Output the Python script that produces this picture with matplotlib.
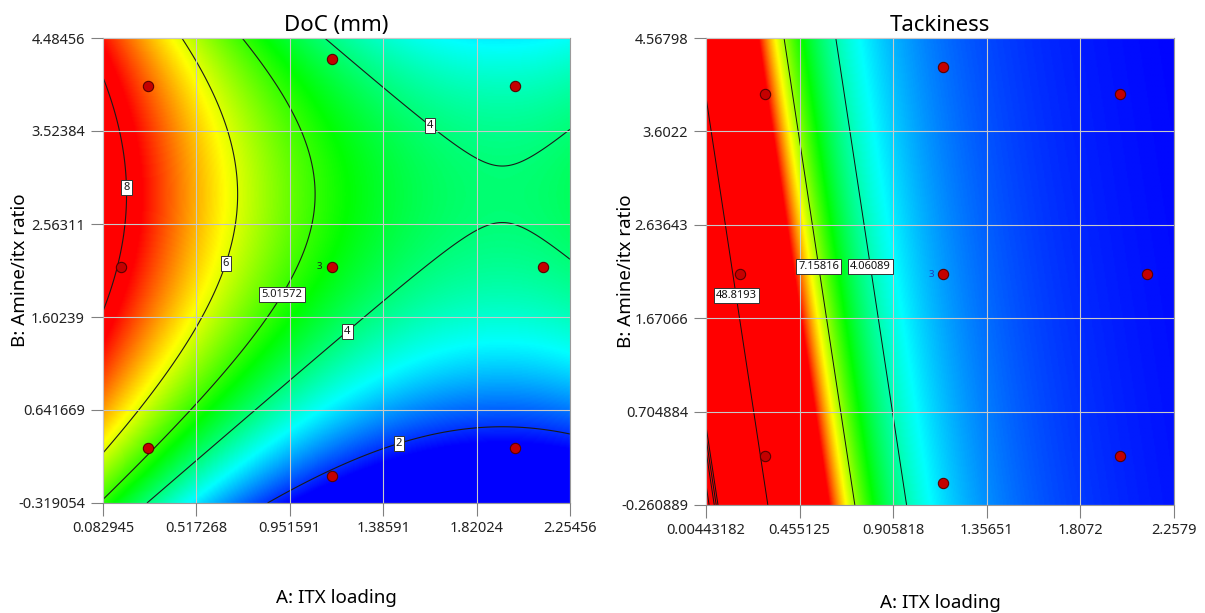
import numpy as np
import matplotlib
matplotlib.use("Agg")
import matplotlib.pyplot as plt
from matplotlib.colors import LinearSegmentedColormap

plt.rcParams["font.family"] = ["Noto Sans", "DejaVu Sans"]

# design runs (A: ITX loading, B: Amine/itx ratio), centre point run 3 times
run_A = [0.29, 2.00, 0.29, 2.00, 0.167, 2.13, 1.147, 1.147, 1.147]
run_B = [0.25, 0.25, 3.99, 3.99, 2.124, 2.124, -0.035, 4.27, 2.124]
run_reps = [1, 1, 1, 1, 1, 1, 1, 1, 3]

# DoC (mm) response surface: saddle form
doc_saddle_A = 1.94
doc_saddle_B = 2.87
doc_saddle_val = 4.03
doc_curv_A = 1.30
doc_curv_B = -0.352
doc_levels = [2, 4, 5.01572, 6, 8]
doc_range = (1.7, 7.7)
doc_xlim = (0.082945, 2.25456)
doc_ylim = (-0.319054, 4.48456)
doc_xticks = ["0.082945", "0.517268", "0.951591", "1.38591", "1.82024", "2.25456"]
doc_yticks = ["-0.319054", "0.641669", "1.60239", "2.56311", "3.52384", "4.48456"]

# Tackiness: inverse sqrt model, 1/sqrt(y) = c0 + c1*u + c2*u^2, u = A + k*(B - b_ref)
tack_k = 0.0706
tack_bref = 2.15
tack_coef = [0.064, 0.6109, -0.0883]
tack_levels = [4.06089, 7.15816, 48.8193]
tack_corner_levels = [1100, 4800, 14000, 110000]
tack_range = (0.9, 10.5)
tack_xlim = (0.00443182, 2.2579)
tack_ylim = (-0.260889, 4.56798)
tack_xticks = ["0.00443182", "0.455125", "0.905818", "1.35651", "1.8072", "2.2579"]
tack_yticks = ["-0.260889", "0.704884", "1.67066", "2.63643", "3.6022", "4.56798"]

cmap = LinearSegmentedColormap.from_list(
    "dx", ["#0000ff", "#00ffff", "#00ff00", "#ffff00", "#ff0000"])


def style_axes(ax, xlim, ylim, xticks, yticks, title, lx, ly):
    ax.set_xlim(*xlim)
    ax.set_ylim(*ylim)
    ax.set_xticks([float(v) for v in xticks])
    ax.set_xticklabels(xticks)
    ax.set_yticks([float(v) for v in yticks])
    ax.set_yticklabels(yticks)
    ax.tick_params(direction="out", length=9, width=0.8, color="#808080",
                   labelsize=10.5, pad=4, labelcolor="#222222")
    ax.grid(True, color="#c8c8c8", linewidth=0.8)
    ax.set_axisbelow(False)
    for s in ax.spines.values():
        s.set_color("#9a9a9a")
        s.set_linewidth(0.8)
    ax.set_title(title, fontsize=16, pad=5)
    ax.set_xlabel("A: ITX loading", fontsize=13.5)
    ax.set_ylabel("B: Amine/itx ratio", fontsize=13.5)
    ax.xaxis.set_label_coords(0.5, lx)
    ax.yaxis.set_label_coords(ly, 0.5)


def boxed(labels):
    for t in labels:
        t.set_rotation(0)
        t.set_bbox(dict(facecolor="white", edgecolor="#333333", linewidth=0.7, pad=1.5))
        t.set_zorder(6)


def draw_runs(ax, num_color):
    ax.scatter(run_A, run_B, s=55, color="#c40000", edgecolor="#5a0000",
               linewidth=0.8, zorder=7)
    for a, b, n in zip(run_A, run_B, run_reps):
        if n > 1:
            ax.text(a - 0.045, b, str(n), fontsize=7, color=num_color,
                    ha="right", va="center", zorder=7)


fig = plt.figure(figsize=(12.05, 6.13), dpi=100)
ax1 = fig.add_axes([103 / 1205, 1 - 503 / 613, 467 / 1205, 465 / 613])
ax2 = fig.add_axes([706 / 1205, 1 - 505 / 613, 468 / 1205, 467 / 613])

# ---- DoC ----
A = np.linspace(*doc_xlim, 400)
B = np.linspace(*doc_ylim, 400)
AA, BB = np.meshgrid(A, B)
doc = (doc_saddle_val + doc_curv_A * (AA - doc_saddle_A) ** 2
       + doc_curv_B * (BB - doc_saddle_B) ** 2)
ax1.imshow(doc, origin="lower", extent=(*doc_xlim, *doc_ylim), aspect="auto",
           cmap=cmap, vmin=doc_range[0], vmax=doc_range[1], interpolation="bilinear", zorder=0)
cs1 = ax1.contour(AA, BB, doc, levels=doc_levels, colors="#1a1a1a", linewidths=0.8, zorder=2)
lab1 = ax1.clabel(cs1, fmt=lambda v: f"{v:g}", fontsize=8, inline=False,
                  manual=[(0.200, 2.94), (0.654, 2.155), (0.906, 1.845),
                          (1.613, 3.605), (1.201, 1.503), (1.445, 0.40)])
boxed(lab1)
draw_runs(ax1, "#222222")
style_axes(ax1, doc_xlim, doc_ylim, doc_xticks, doc_yticks, "DoC (mm)", -0.185, -0.158)

# ---- Tackiness ----
A = np.linspace(*tack_xlim, 400)
B = np.linspace(*tack_ylim, 400)
AA, BB = np.meshgrid(A, B)
u = AA + tack_k * (BB - tack_bref)
t = tack_coef[0] + tack_coef[1] * u + tack_coef[2] * u ** 2
tack = np.where(t > 0, 1.0 / np.where(t > 0, t, 1.0) ** 2, tack_range[1])
ax2.imshow(np.clip(tack, *tack_range), origin="lower", extent=(*tack_xlim, *tack_ylim),
           aspect="auto", cmap=cmap, vmin=tack_range[0], vmax=tack_range[1],
           interpolation="bilinear", zorder=0)
t_levels = [v ** -0.5 for v in tack_levels]
cs2 = ax2.contour(AA, BB, t, levels=sorted(t_levels), colors="#111111",
                  linewidths=0.7, linestyles="solid", zorder=2)
corner = sorted(-(v ** -0.5) for v in tack_corner_levels)
ax2.contour(AA, BB, t, levels=corner, colors="#111111", linewidths=0.7,
            linestyles="solid", zorder=2)
lab2 = ax2.clabel(cs2, fmt=lambda v: f"{v ** -2:g}", fontsize=8, inline=False,
                  manual=[(0.154, 1.905), (0.548, 2.205), (0.804, 2.205)])
boxed(lab2)
draw_runs(ax2, "#1f3fbf")
style_axes(ax2, tack_xlim, tack_ylim, tack_xticks, tack_yticks, "Tackiness", -0.19, -0.152)

fig.savefig("out.png", dpi=100)
